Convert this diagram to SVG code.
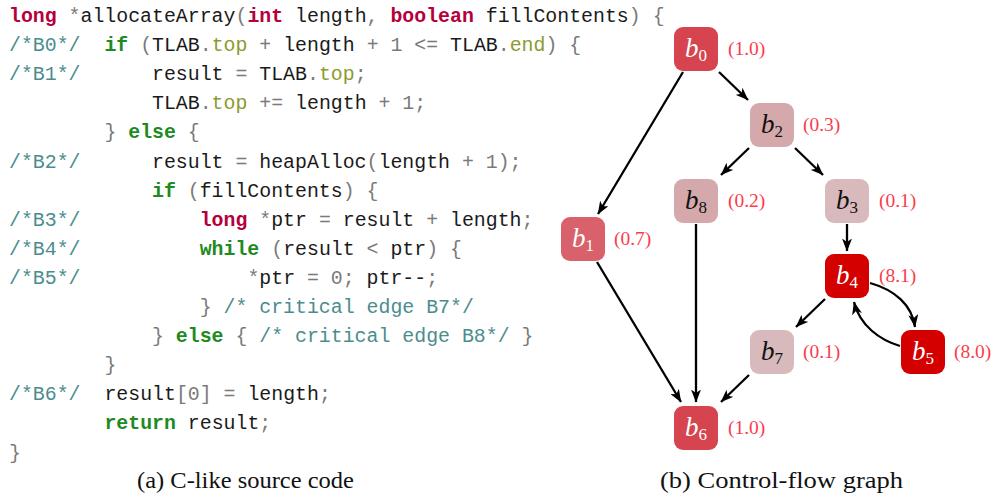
<svg xmlns="http://www.w3.org/2000/svg" width="995" height="499" viewBox="0 0 995 499">
<style>
.code{font-family:"Liberation Mono","DejaVu Sans Mono",monospace;font-size:19.86px;fill:#1a1a1a;white-space:pre}
.k{fill:#b5003c;font-weight:bold}
.g{fill:#1f8a1f;font-weight:bold}
.c{fill:#4b8d8d}
.f{fill:#8c9a30}
.p{fill:#7a7a7a}
.node rect{stroke:none}
.nl{font-family:"Liberation Serif","Times New Roman",serif;font-size:27px;text-anchor:middle}
.nl .b{font-style:italic}
.nl .s{font-size:17px}
.w{fill:#ffffff}
.d{fill:#111111}
.wt{font-family:"Liberation Serif","Times New Roman",serif;font-size:19.5px;fill:#fa3c4c}
.cap{font-family:"Liberation Serif","Times New Roman",serif;font-size:24px;fill:#111;text-anchor:middle}
.edge{fill:none;stroke:#000;stroke-width:2.3}
</style>
<defs>
<marker id="arr" markerUnits="userSpaceOnUse" viewBox="0 0 13 10" refX="12.5" refY="5" markerWidth="13" markerHeight="10" orient="auto">
<path d="M0,0 L13,5 L0,10 L3.5,5 Z" fill="#000"/>
</marker>
</defs>
<rect width="995" height="499" fill="#fff"/>

<g id="code">
<text class="code" xml:space="preserve" x="9" y="22"><tspan class="k">long</tspan> <tspan class="p">*</tspan>allocateArray<tspan class="p">(</tspan><tspan class="k">int</tspan> length<tspan class="p">,</tspan> <tspan class="k">boolean</tspan> fillContents<tspan class="p">)</tspan> <tspan class="p">{</tspan></text>

<text class="code c" x="9" y="51.1">/*B0*/</text>
<text class="code" xml:space="preserve" x="104.4" y="51.1"><tspan class="g">if</tspan> <tspan class="p">(</tspan>TLAB<tspan class="p">.</tspan><tspan class="f">top</tspan> <tspan class="p">+</tspan> length <tspan class="p">+</tspan> <tspan class="p">1</tspan> <tspan class="p">&lt;=</tspan> TLAB<tspan class="p">.</tspan><tspan class="f">end</tspan><tspan class="p">)</tspan> <tspan class="p">{</tspan></text>

<text class="code c" x="9" y="80.2">/*B1*/</text>
<text class="code" xml:space="preserve" x="152" y="80.2">result <tspan class="p">=</tspan> TLAB<tspan class="p">.</tspan><tspan class="f">top</tspan><tspan class="p">;</tspan></text>

<text class="code" xml:space="preserve" x="152" y="109.3">TLAB<tspan class="p">.</tspan><tspan class="f">top</tspan> <tspan class="p">+=</tspan> length <tspan class="p">+</tspan> <tspan class="p">1</tspan><tspan class="p">;</tspan></text>

<text class="code" xml:space="preserve" x="104.4" y="138.4"><tspan class="p">}</tspan> <tspan class="g">else</tspan> <tspan class="p">{</tspan></text>

<text class="code c" x="9" y="167.5">/*B2*/</text>
<text class="code" xml:space="preserve" x="152" y="167.5">result <tspan class="p">=</tspan> heapAlloc<tspan class="p">(</tspan>length <tspan class="p">+</tspan> <tspan class="p">1</tspan><tspan class="p">);</tspan></text>

<text class="code" xml:space="preserve" x="152" y="196.6"><tspan class="g">if</tspan> <tspan class="p">(</tspan>fillContents<tspan class="p">)</tspan> <tspan class="p">{</tspan></text>

<text class="code c" x="9" y="225.7">/*B3*/</text>
<text class="code" xml:space="preserve" x="199.7" y="225.7"><tspan class="k">long</tspan> <tspan class="p">*</tspan>ptr <tspan class="p">=</tspan> result <tspan class="p">+</tspan> length<tspan class="p">;</tspan></text>

<text class="code c" x="9" y="254.8">/*B4*/</text>
<text class="code" xml:space="preserve" x="199.7" y="254.8"><tspan class="g">while</tspan> <tspan class="p">(</tspan>result <tspan class="p">&lt;</tspan> ptr<tspan class="p">)</tspan> <tspan class="p">{</tspan></text>

<text class="code c" x="9" y="283.9">/*B5*/</text>
<text class="code" xml:space="preserve" x="247.4" y="283.9"><tspan class="p">*</tspan>ptr <tspan class="p">=</tspan> <tspan class="p">0</tspan><tspan class="p">;</tspan> ptr--<tspan class="p">;</tspan></text>

<text class="code" xml:space="preserve" x="199.7" y="313"><tspan class="p">}</tspan> <tspan class="c">/* critical edge B7*/</tspan></text>

<text class="code" xml:space="preserve" x="152" y="342.1"><tspan class="p">}</tspan> <tspan class="g">else</tspan> <tspan class="p">{</tspan> <tspan class="c">/* critical edge B8*/</tspan> <tspan class="p">}</tspan></text>

<text class="code p" x="104.4" y="371.2">}</text>

<text class="code c" x="9" y="400.3">/*B6*/</text>
<text class="code" xml:space="preserve" x="104.4" y="400.3">result<tspan class="p">[0]</tspan> <tspan class="p">=</tspan> length<tspan class="p">;</tspan></text>

<text class="code" xml:space="preserve" x="104.4" y="429.4"><tspan class="g">return</tspan> result<tspan class="p">;</tspan></text>

<text class="code p" x="9" y="458.5">}</text>
</g>

<g id="edges">
<line class="edge" x1="683" y1="72" x2="598" y2="214" marker-end="url(#arr)"/>
<line class="edge" x1="719" y1="72" x2="748" y2="100" marker-end="url(#arr)"/>
<line class="edge" x1="749" y1="148" x2="721" y2="175" marker-end="url(#arr)"/>
<line class="edge" x1="795" y1="148" x2="823" y2="175" marker-end="url(#arr)"/>
<line class="edge" x1="847" y1="224" x2="847" y2="251" marker-end="url(#arr)"/>
<line class="edge" x1="825" y1="299" x2="796" y2="327" marker-end="url(#arr)"/>
<path class="edge" d="M870,283 C895,290 912,305 915,327" marker-end="url(#arr)"/>
<path class="edge" d="M900,346 C880,340 860,326 854,302" marker-end="url(#arr)"/>
<line class="edge" x1="597" y1="262" x2="681" y2="402" marker-end="url(#arr)"/>
<line class="edge" x1="696" y1="224" x2="696" y2="402" marker-end="url(#arr)"/>
<line class="edge" x1="749" y1="375" x2="721" y2="402" marker-end="url(#arr)"/>
</g>

<g id="b0" class="node">
<rect x="674" y="27" width="44" height="44" rx="9" fill="#d6444f"/>
<text class="nl w" x="696" y="57"><tspan class="b">b</tspan><tspan class="s" dy="4">0</tspan></text>
<text class="wt" x="728" y="55">(1.0)</text>
</g>
<g id="b2" class="node">
<rect x="750" y="103" width="44" height="44" rx="9" fill="#d5a9ac"/>
<text class="nl d" x="772" y="133"><tspan class="b">b</tspan><tspan class="s" dy="4">2</tspan></text>
<text class="wt" x="803" y="131">(0.3)</text>
</g>
<g id="b8" class="node">
<rect x="674" y="179" width="44" height="44" rx="9" fill="#d5a9ac"/>
<text class="nl d" x="696" y="209"><tspan class="b">b</tspan><tspan class="s" dy="4">8</tspan></text>
<text class="wt" x="728" y="207">(0.2)</text>
</g>
<g id="b3" class="node">
<rect x="825" y="179" width="44" height="44" rx="9" fill="#d8b9bc"/>
<text class="nl d" x="847" y="209"><tspan class="b">b</tspan><tspan class="s" dy="4">3</tspan></text>
<text class="wt" x="879" y="207">(0.1)</text>
</g>
<g id="b1" class="node">
<rect x="561" y="217" width="44" height="44" rx="9" fill="#d9616b"/>
<text class="nl w" x="583" y="247"><tspan class="b">b</tspan><tspan class="s" dy="4">1</tspan></text>
<text class="wt" x="614" y="245">(0.7)</text>
</g>
<g id="b4" class="node">
<rect x="825" y="254" width="44" height="44" rx="9" fill="#d40000"/>
<text class="nl w" x="847" y="284"><tspan class="b">b</tspan><tspan class="s" dy="4">4</tspan></text>
<text class="wt" x="879" y="282">(8.1)</text>
</g>
<g id="b7" class="node">
<rect x="750" y="330" width="44" height="44" rx="9" fill="#d8b9bc"/>
<text class="nl d" x="772" y="360"><tspan class="b">b</tspan><tspan class="s" dy="4">7</tspan></text>
<text class="wt" x="803" y="358">(0.1)</text>
</g>
<g id="b5" class="node">
<rect x="901" y="330" width="44" height="44" rx="9" fill="#d40000"/>
<text class="nl w" x="923" y="360"><tspan class="b">b</tspan><tspan class="s" dy="4">5</tspan></text>
<text class="wt" x="954" y="358">(8.0)</text>
</g>
<g id="b6" class="node">
<rect x="674" y="406" width="44" height="44" rx="9" fill="#d6444f"/>
<text class="nl w" x="696" y="436"><tspan class="b">b</tspan><tspan class="s" dy="4">6</tspan></text>
<text class="wt" x="728" y="434">(1.0)</text>
</g>

<g id="captions">
<text class="cap" x="245.5" y="488" textLength="217" lengthAdjust="spacingAndGlyphs">(a) C-like source code</text>
<text class="cap" x="781.5" y="488" textLength="243" lengthAdjust="spacingAndGlyphs">(b) Control-flow graph</text>
</g>
</svg>
